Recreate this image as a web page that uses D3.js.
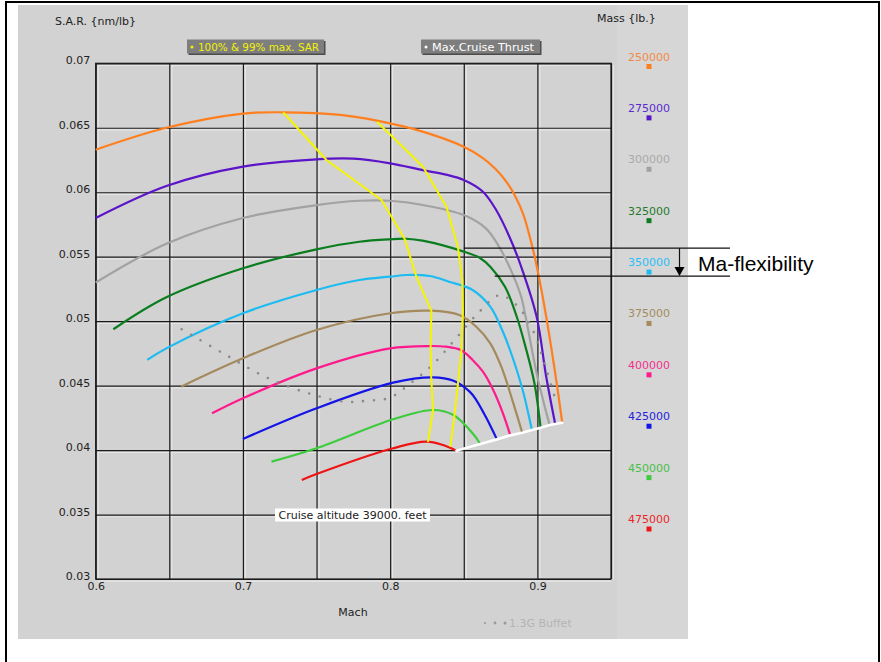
<!DOCTYPE html>
<html><head><meta charset="utf-8">
<script src="https://cdn.jsdelivr.net/npm/d3@7"></script>
<style>body{margin:0;background:#fff}svg{display:block}</style>
</head><body>
<svg id="c" width="881" height="662"></svg>
<script>
// ---------- DATA ----------
const masses = [250000, 275000, 300000, 325000, 350000, 375000, 400000, 425000, 450000, 475000];
const massColors = ["#ff7f1e", "#5b14c8", "#a2a2a2", "#0a7d1e", "#1cbcf2", "#a48a5c", "#ff1a8c", "#1414e6", "#3ccc3c", "#ee1414"];
const labelColors = ["#f28a48", "#5a2ad0", "#a9a9a9", "#1f7a2c", "#2ac0f8", "#a38c5e", "#f2308c", "#2424dc", "#48c048", "#e82828"];

const mach250 = [0.600, 0.648, 0.700, 0.727, 0.766, 0.791, 0.822, 0.850, 0.863, 0.8716, 0.8791, 0.8852, 0.8906, 0.8954, 0.9001, 0.906, 0.9128, 0.9169];
const sar250  = [0.0633, 0.0650, 0.0661, 0.0662, 0.0660, 0.06555, 0.0647, 0.06353, 0.06265, 0.0618, 0.06079, 0.05963, 0.05823, 0.05629, 0.05397, 0.05034, 0.04543, 0.04212];
const mach275 = [0.600, 0.648, 0.700, 0.750, 0.775, 0.800, 0.822, 0.838, 0.850, 0.863, 0.872, 0.881, 0.889, 0.8995, 0.906, 0.9121];
const sar275  = [0.0580, 0.06048, 0.06198, 0.06255, 0.0626, 0.06224, 0.06172, 0.06136, 0.06095, 0.06004, 0.05862, 0.05655, 0.05422, 0.05034, 0.04569, 0.04202];
const mach300 = [0.600, 0.648, 0.700, 0.750, 0.779, 0.800, 0.822, 0.850, 0.865, 0.874, 0.883, 0.889, 0.892, 0.900, 0.9083];
const sar300  = [0.0530, 0.0560, 0.0580, 0.0590, 0.05934, 0.05934, 0.05901, 0.05823, 0.0572, 0.05577, 0.05371, 0.05189, 0.05034, 0.04569, 0.04194];
const mach325 = [0.612, 0.648, 0.700, 0.750, 0.779, 0.800, 0.811, 0.822, 0.850, 0.861, 0.868, 0.878, 0.886, 0.8925, 0.898, 0.9022];
const sar325  = [0.04937, 0.05185, 0.0541, 0.05557, 0.05616, 0.05635, 0.05639, 0.05624, 0.05539, 0.0549, 0.05422, 0.05267, 0.05034, 0.04776, 0.04518, 0.04173];
const mach350 = [0.635, 0.648, 0.700, 0.750, 0.779, 0.800, 0.811, 0.827, 0.840, 0.856, 0.868, 0.877, 0.883, 0.890, 0.8963];
const sar350  = [0.0470, 0.04789, 0.05061, 0.05242, 0.05319, 0.05345, 0.05358, 0.0535, 0.05306, 0.05242, 0.05112, 0.04906, 0.04724, 0.04466, 0.04155];
const mach375 = [0.658, 0.700, 0.750, 0.800, 0.827, 0.847, 0.8585, 0.868, 0.8755, 0.883, 0.8897];
const sar375  = [0.04492, 0.04712, 0.04931, 0.05061, 0.05081, 0.05048, 0.04957, 0.04828, 0.04647, 0.04388, 0.04135];
const mach400 = [0.679, 0.700, 0.750, 0.800, 0.827, 0.838, 0.848, 0.856, 0.863, 0.870, 0.8766, 0.8816];
const sar400  = [0.04285, 0.04402, 0.04634, 0.04789, 0.04807, 0.04802, 0.04776, 0.04699, 0.04608, 0.04466, 0.04285, 0.04114];
const mach425 = [0.700, 0.750, 0.802, 0.829, 0.843, 0.854, 0.8585, 0.8653, 0.8725];
const sar425  = [0.04086, 0.04324, 0.04523, 0.04564, 0.04538, 0.04453, 0.04388, 0.0425, 0.04083];
const mach450 = [0.7194, 0.750, 0.802, 0.829, 0.843, 0.856, 0.8612];
const sar450  = [0.0391, 0.04014, 0.04239, 0.04311, 0.04272, 0.0413, 0.04047];
const mach475 = [0.740, 0.750, 0.802, 0.8246, 0.836, 0.845];
const sar475  = [0.03768, 0.03814, 0.04014, 0.04065, 0.04039, 0.03995];

const maxSarMach = [0.7273, 0.7567, 0.7941, 0.8099, 0.8178, 0.828, 0.8275, 0.8279, 0.8291, 0.8257];
const maxSarSAR  = [0.0662, 0.0625, 0.0594, 0.05637, 0.05345, 0.05079, 0.04803, 0.04559, 0.04311, 0.04062];
const sar99Mach  = [0.7911, 0.8223, 0.8382, 0.846, 0.849, 0.8494, 0.8484, 0.846, 0.8438, 0.8409];
const sar99SAR   = [0.06547, 0.06198, 0.05888, 0.05577, 0.05319, 0.05071, 0.04776, 0.04512, 0.0428, 0.04024];

const thrustMach = [0.845, 0.8612, 0.8725, 0.8816, 0.8897, 0.8963, 0.9022, 0.9083, 0.9121, 0.9169];
const thrustSAR  = [0.03995, 0.04047, 0.04083, 0.04114, 0.04135, 0.04155, 0.04173, 0.04194, 0.04202, 0.04212];

const buffetMach = [0.6584, 0.6866, 0.7167, 0.747, 0.7696, 0.7846, 0.7997, 0.8144, 0.8291, 0.8438, 0.8596, 0.8743, 0.8823, 0.8897, 0.8969, 0.9037, 0.9117];
const buffetSAR  = [0.04937, 0.0475, 0.0456, 0.04432, 0.04375, 0.04383, 0.04406, 0.04524, 0.04665, 0.04854, 0.05061, 0.05203, 0.05159, 0.05073, 0.04931, 0.04712, 0.04414];

const xTicks = [0.6, 0.65, 0.7, 0.75, 0.8, 0.85, 0.9, 0.95];
const xTickLabels = ["0.6", "", "0.7", "", "0.8", "", "0.9", ""];
const yTicks = [0.03, 0.035, 0.04, 0.045, 0.05, 0.055, 0.06, 0.065, 0.07];
const yTickLabels = ["0.03", "0.035", "0.04", "0.045", "0.05", "0.055", "0.06", "0.065", "0.07"];

const flexSAR = [0.05567, 0.0535];
const flexMach = [0.85, 0.871];

// ---------- BUILD ----------
const seriesMach = [mach250, mach275, mach300, mach325, mach350, mach375, mach400, mach425, mach450, mach475];
const seriesSAR = [sar250, sar275, sar300, sar325, sar350, sar375, sar400, sar425, sar450, sar475];
const zip = (a, b) => a.map((v, i) => [v, b[i]]);

const L = 95.7, R = 611, T = 63.3, B = 579;
const x = d3.scaleLinear().domain([0.6, 0.95]).range([L, R]);
const y = d3.scaleLinear().domain([0.03, 0.07]).range([B, T]);
const font = "'DejaVu Sans', sans-serif";

const svg = d3.select('#c');
svg.append('rect').attr('x', 6).attr('y', 2).attr('width', 873).attr('height', 700)
  .attr('fill', '#fff').attr('stroke', '#000').attr('stroke-width', 2);
svg.append('rect').attr('x', 18).attr('y', 5).attr('width', 670).attr('height', 634).attr('fill', '#d2d2d2');
svg.append('rect').attr('x', 617).attr('y', 5).attr('width', 71).attr('height', 634).attr('fill', '#d6d6d6');

// white highlight grid
const hl = svg.append('g').attr('stroke', '#ececec').attr('stroke-width', 1.2).attr('opacity', 0.8);
xTicks.forEach(t => hl.append('line').attr('x1', x(t) + 2.5).attr('x2', x(t) + 2.5).attr('y1', T + 2).attr('y2', B));
yTicks.forEach(t => hl.append('line').attr('x1', L + 2).attr('x2', R).attr('y1', y(t) + 2.2).attr('y2', y(t) + 2.2));

// axes with grid
const xAxis = svg.append('g').attr('transform', `translate(0,${B})`)
  .call(d3.axisBottom(x).tickValues(xTicks).tickSize(-(B - T)).tickPadding(3)
    .tickFormat((d, i) => xTickLabels[i]));
const yAxis = svg.append('g').attr('transform', `translate(${L},0)`)
  .call(d3.axisLeft(y).tickValues(yTicks).tickSize(-(R - L)).tickPadding(5.5)
    .tickFormat((d, i) => yTickLabels[i]));
[xAxis, yAxis].forEach(a => {
  a.select('.domain').remove();
  a.selectAll('line').attr('stroke', '#1a1a1a').attr('stroke-width', 1.2);
  a.selectAll('text').attr('font-family', font).attr('font-size', 11).attr('fill', '#222');
});
yAxis.selectAll('text').attr('dy', '0.05em');
svg.append('rect').attr('x', L).attr('y', T).attr('width', R - L).attr('height', B - T)
  .attr('fill', 'none').attr('stroke', '#1a1a1a').attr('stroke-width', 1.2);

// curves
const curve = d3.line().x(d => x(d[0])).y(d => y(d[1])).curve(d3.curveCatmullRom.alpha(0.5));
const lin = d3.line().x(d => x(d[0])).y(d => y(d[1]));
const cg = svg.append('g').attr('fill', 'none').attr('stroke-width', 2.2).attr('stroke-linejoin', 'round');
seriesMach.forEach((m, i) => {
  cg.append('path').attr('d', curve(zip(m, seriesSAR[i]))).attr('stroke', massColors[i]);
});

// buffet dotted
svg.append('path').attr('d', curve(zip(buffetMach, buffetSAR))).attr('fill', 'none')
  .attr('stroke', '#8a8a8a').attr('stroke-width', 2.6).attr('stroke-linecap', 'round')
  .attr('stroke-dasharray', '0 11');

// yellow lines
svg.append('path').attr('d', lin(zip(maxSarMach, maxSarSAR))).attr('fill', 'none')
  .attr('stroke', '#f5f500').attr('stroke-width', 2).attr('stroke-linejoin', 'round');
svg.append('path').attr('d', lin(zip(sar99Mach, sar99SAR))).attr('fill', 'none')
  .attr('stroke', '#f5f500').attr('stroke-width', 2).attr('stroke-linejoin', 'round');

// max cruise thrust
svg.append('path').attr('d', lin(zip(thrustMach, thrustSAR))).attr('fill', 'none')
  .attr('stroke', '#ffffff').attr('stroke-width', 2.6).attr('stroke-linecap', 'round');

// titles
svg.append('text').attr('x', 55).attr('y', 25).text('S.A.R. {nm/lb}')
  .attr('font-family', font).attr('font-size', 11).attr('fill', '#222');
svg.append('text').attr('x', 597).attr('y', 22).text('Mass {lb.}')
  .attr('font-family', font).attr('font-size', 11).attr('fill', '#222');
svg.append('text').attr('x', 353).attr('y', 616).attr('text-anchor', 'middle').text('Mach')
  .attr('font-family', font).attr('font-size', 11).attr('fill', '#222');

// legend boxes
function legBox(bx, w, label, color, tl) {
  svg.append('rect').attr('x', bx + 1.5).attr('y', 41).attr('width', w).attr('height', 14).attr('fill', '#4c4c4c');
  svg.append('rect').attr('x', bx).attr('y', 39.5).attr('width', w).attr('height', 14).attr('fill', '#7e7e7e');
  svg.append('circle').attr('cx', bx + 5).attr('cy', 47).attr('r', 1.5).attr('fill', color);
  svg.append('text').attr('x', bx + 11).attr('y', 51).text(label)
    .attr('font-family', font).attr('font-size', 11).attr('fill', color)
    .attr('textLength', tl).attr('lengthAdjust', 'spacingAndGlyphs');
}
legBox(187, 137, '100% & 99% max. SAR', '#f2f200', 121);
legBox(421, 119, 'Max.Cruise Thrust', '#ffffff', 102);

// mass legend
const ly = d3.scalePoint().domain(masses).range([56.5, 519]);
masses.forEach((m, i) => {
  svg.append('text').attr('x', 649).attr('y', ly(m) + 4).attr('text-anchor', 'middle').text(String(m))
    .attr('font-family', font).attr('font-size', 11).attr('fill', labelColors[i]);
  svg.append('rect').attr('x', 646.5).attr('y', ly(m) + 7.5).attr('width', 5).attr('height', 5).attr('fill', massColors[i]);
});

// cruise altitude label
svg.append('rect').attr('x', 275).attr('y', 508.5).attr('width', 155).attr('height', 13).attr('fill', '#fff');
svg.append('text').attr('x', 278.5).attr('y', 519).text('Cruise altitude 39000. feet')
  .attr('font-family', font).attr('font-size', 11).attr('fill', '#222')
  .attr('textLength', 148).attr('lengthAdjust', 'spacingAndGlyphs');

// buffet legend
[[485, 1.1], [495, 1.4], [505, 1.5]].forEach(d =>
  svg.append('circle').attr('cx', d[0]).attr('cy', 623).attr('r', d[1]).attr('fill', '#9a9a9a'));
svg.append('text').attr('x', 509).attr('y', 627).text('1.3G Buffet')
  .attr('font-family', font).attr('font-size', 11).attr('fill', '#b4b4b4');

// Ma-flexibility annotation
const ag = svg.append('g').attr('stroke', '#111').attr('stroke-width', 1.2);
flexSAR.forEach((s, i) => ag.append('line').attr('x1', x(flexMach[i])).attr('x2', 730).attr('y1', y(s)).attr('y2', y(s)));
ag.append('line').attr('x1', 679.5).attr('x2', 679.5).attr('y1', y(flexSAR[0])).attr('y2', y(flexSAR[1]) - 8);
svg.append('path').attr('d', `M674.5,${y(flexSAR[1]) - 9}L684.5,${y(flexSAR[1]) - 9}L679.5,${y(flexSAR[1])}Z`).attr('fill', '#000');
svg.append('text').attr('x', 698).attr('y', 271).text('Ma-flexibility')
  .attr('font-family', "'Liberation Sans', Arial, sans-serif").attr('font-size', 21).attr('fill', '#000');
</script>
</body></html>
